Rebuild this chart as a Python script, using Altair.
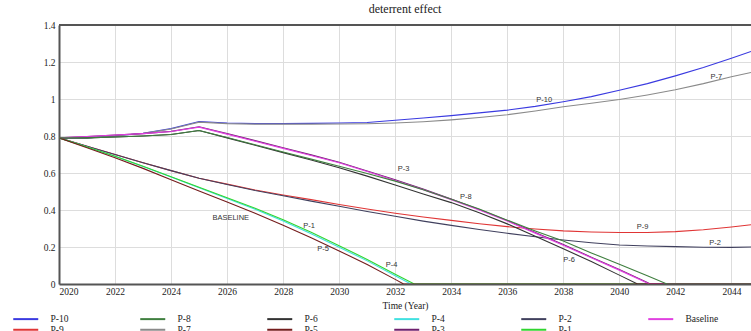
import altair as alt
import pandas as pd

YEARS = [2020, 2021, 2022, 2023, 2024, 2025, 2026, 2027, 2028, 2029, 2030, 2031, 2032,
         2033, 2034, 2035, 2036, 2037, 2038, 2039, 2040, 2041, 2042, 2043, 2044, 2044.7]

P10 = [.79, .79, .80, .815, .84, .878, .87, .867, .867, .868, .87, .873, .885, .897, .91,
       .925, .94, .96, .985, 1.013, 1.047, 1.083, 1.125, 1.17, 1.22, 1.257]
P7 = [.79, .79, .80, .814, .838, .875, .867, .864, .864, .864, .865, .866, .87, .877, .887,
      .90, .915, .935, .958, .977, .997, 1.022, 1.05, 1.083, 1.12, 1.143]
P9 = [.79, .745, .70, .655, .613, .572, .54, .508, .481, .456, .43, .405, .382, .362, .344,
      .326, .31, .297, .287, .281, .278, .278, .283, .293, .308, .32]
P2 = [.79, .745, .70, .655, .613, .572, .538, .505, .477, .448, .42, .392, .366, .34, .317,
      .295, .274, .255, .238, .223, .211, .205, .202, .199, .198, .20]
P4 = [.79, .74, .69, .635, .578, .52, .462, .404, .34, .272, .199, .125, .045, 0, 0,
      0, 0, 0, 0, 0, 0, 0, 0, 0, 0, 0]
P1 = [.79, .74, .69, .636, .58, .523, .466, .41, .347, .28, .207, .133, .053, 0, 0,
      0, 0, 0, 0, 0, 0, 0, 0, 0, 0, 0]
P5 = [.79, .737, .683, .625, .563, .503, .443, .382, .318, .25, .179, .105, .025, 0, 0,
      0, 0, 0, 0, 0, 0, 0, 0, 0, 0, 0]
P6 = [.79, .79, .795, .80, .808, .83, .79, .75, .71, .67, .628, .583, .535, .487, .44,
      .385, .325, .258, .19, .122, .048, 0, 0, 0, 0, 0]
P8 = [.79, .79, .795, .80, .808, .83, .792, .753, .714, .675, .636, .597, .556, .51, .458,
      .405, .345, .287, .232, .168, .107, .045, 0, 0, 0, 0]
BASE = [.79, .797, .805, .813, .824, .848, .81, .772, .733, .695, .655, .608, .56, .51, .456,
        .40, .34, .275, .21, .142, .075, .005, 0, 0, 0, 0]
P3 = [.79, .797, .805, .813, .825, .85, .813, .775, .736, .698, .658, .611, .563, .513, .459,
      .403, .343, .278, .213, .145, .078, .008, 0, 0, 0, 0]

ZERO_CROSS = {"P-4": 2032.56, "P-1": 2032.68, "P-5": 2032.3, "P-6": 2040.65,
              "P-8": 2041.7, "Baseline": 2041.07, "P-3": 2041.1}

SERIES = {"P-10": P10, "P-7": P7, "P-9": P9, "P-2": P2, "P-4": P4, "P-1": P1,
          "P-6": P6, "P-3": P3, "Baseline": BASE, "P-5": P5, "P-8": P8}

LEGEND_ORDER = ["P-10", "P-8", "P-6", "P-4", "P-2", "Baseline",
                "P-9", "P-7", "P-5", "P-3", "P-1"]
COLORS = ["#3a3ae0", "#3f7f3f", "#333333", "#40e0e0", "#40405e", "#e040e0",
          "#e03535", "#8a8a8a", "#741c1c", "#6e206e", "#30d530"]

LABEL_TEXT = ["P-10", "P-7", "P-3", "P-8", "P-6", "P-9", "P-2", "BASELINE", "P-1", "P-5", "P-4"]
LABEL_YEAR = [2037.32, 2043.46, 2032.3, 2034.52, 2038.21, 2040.83, 2043.42, 2026.13,
              2028.93, 2029.43, 2031.87]
LABEL_VALUE = [0.996, 1.118, 0.62, 0.469, 0.13, 0.307, 0.22, 0.359, 0.314, 0.188, 0.103]

Y_TICKS = [0, 0.2, 0.4, 0.6, 0.8, 1.0, 1.2, 1.4]
X_TICKS = list(range(2020, 2045, 2))

rows = []
for order, (name, vals) in enumerate(SERIES.items()):
    cross = ZERO_CROSS.get(name)
    inserted = False
    for yr, v in zip(YEARS, vals):
        if cross is not None and not inserted and yr > cross:
            rows.append({"series": name, "year": cross, "value": 0.0, "o": order})
            inserted = True
        rows.append({"series": name, "year": yr, "value": v, "o": order})
df = pd.DataFrame(rows)

labels = pd.DataFrame({"text": LABEL_TEXT, "year": LABEL_YEAR, "value": LABEL_VALUE})
frame_top = pd.DataFrame({"value": [Y_TICKS[-1]]})

serif = "Liberation Serif"

x_enc = alt.X("year:Q",
              scale=alt.Scale(domain=[2020, 2044.7], nice=False, zero=False),
              axis=alt.Axis(values=X_TICKS, format="d", tickCount=len(X_TICKS),
                            title="Time (Year)", labelOverlap=False))
y_enc = alt.Y("value:Q",
              scale=alt.Scale(domain=[0, 1.4], nice=False),
              axis=alt.Axis(values=Y_TICKS, format="~g", tickCount=len(Y_TICKS),
                            title=None, labelOverlap=False))

lines = alt.Chart(df).mark_line(strokeWidth=1.1, clip=True).encode(
    x=x_enc, y=y_enc,
    color=alt.Color("series:N",
                    scale=alt.Scale(domain=LEGEND_ORDER, range=COLORS),
                    legend=alt.Legend(
                        orient="none", legendX=-38, legendY=289,
                        direction="horizontal", columns=6, title=None,
                        symbolType="M-5,0H5", symbolSize=25, symbolStrokeWidth=2,
                        labelOffset=20, columnPadding=52, rowPadding=0,
                        gridAlign="all", padding=0,
                        labelFont=serif, labelFontSize=9.5, labelColor="#222")),
    detail="o:O",
)

top_rule = alt.Chart(frame_top).mark_rule(
    color="#555555", strokeWidth=2).encode(y=y_enc)

texts = alt.Chart(labels).mark_text(
    font="Liberation Sans", fontSize=7.5, color="#333333").encode(
    x=x_enc, y=y_enc, text="text:N")

chart = alt.layer(lines, top_rule, texts).properties(
    width=692, height=259,
    title=alt.TitleParams("deterrent effect", font=serif, fontSize=12,
                          fontWeight="normal", color="#222222", offset=4),
    autosize=alt.AutoSizeParams(type="none"),
    padding={"left": 59, "top": 25, "right": 0, "bottom": 47},
).configure_view(stroke=None).configure_axis(
    labelFont=serif, labelFontSize=9.5, labelColor="#222222",
    titleFont=serif, titleFontSize=9.5, titleFontWeight="normal", titleColor="#222222",
    gridColor="#dddddd", gridWidth=1, ticks=False,
    domainColor="#555555", domainWidth=2,
).configure_axisX(labelPadding=2, titlePadding=5).configure_axisY(labelPadding=4)

chart.save("out.html", embed_options={"renderer": "svg", "actions": False})
